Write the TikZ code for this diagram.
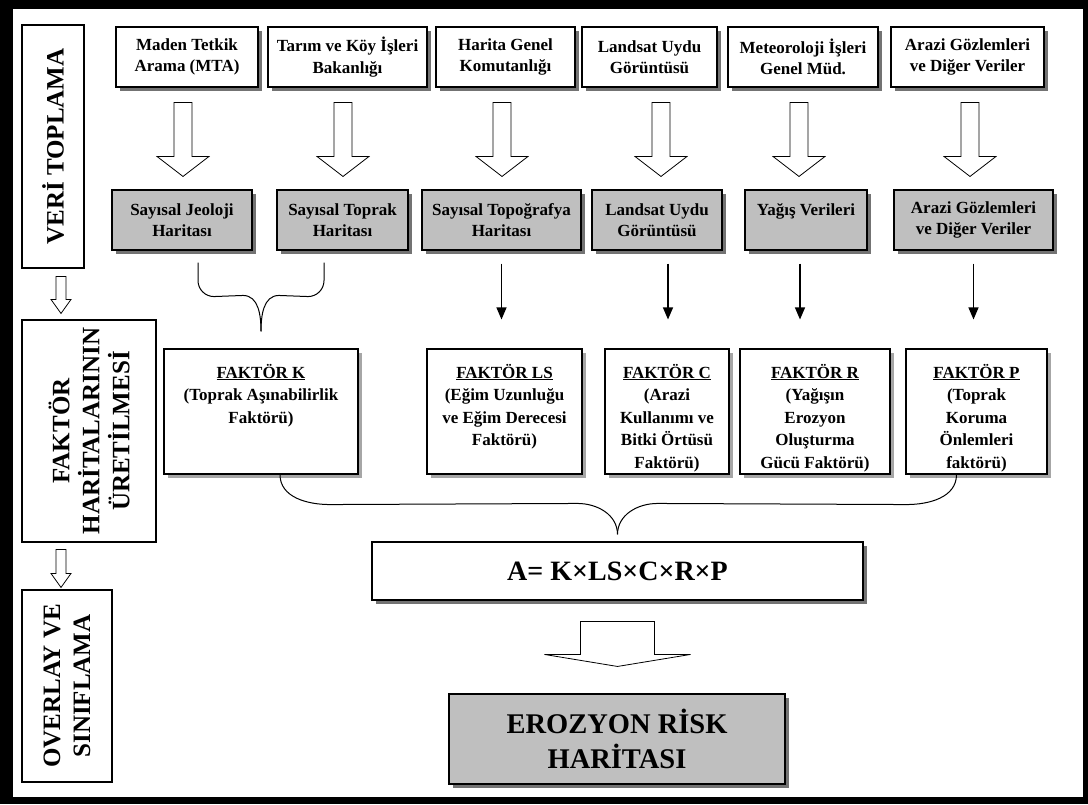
\documentclass[tikz,border=0pt]{standalone}
\usepackage{fontspec}
\setmainfont{Liberation Serif}
\usetikzlibrary{calc, shadows, arrows.meta, positioning}

% hollow block arrow: start, tip, half shaft, half head, head length
\newcommand{\hollowarrow}[5]{%
  \draw[fatarrow] let \p1=#1, \p2=#2 in
    (\x1-#3,\y1) -- (\x1+#3,\y1) -- (\x1+#3,\y2+#5) -- (\x1+#4,\y2+#5)
    -- (\x1,\y2) -- (\x1-#4,\y2+#5) -- (\x1-#3,\y2+#5) -- cycle;}
% top aligned text of a factor box
\newcommand{\ftext}[2]{\parbox[c][125pt][t]{#1}{\centering\rule{0pt}{29pt}#2}}

\tikzset{
  box/.style = {draw, line width=1.1pt, align=center, inner sep=0pt,
    font=\bfseries\fontsize{17}{21.5}\selectfont},
  shade/.style = {drop shadow={shadow xshift=4pt, shadow yshift=-4pt, fill=black!55, opacity=1}},
  srcbox/.style = {box, shade, fill=white, minimum height=60pt},
  mapbox/.style = {box, shade, fill=gray!50, minimum height=60pt},
  factorbox/.style = {box, fill=white, minimum height=125pt,
    drop shadow={shadow xshift=4pt, shadow yshift=-4pt, fill=black!35, opacity=1},
    font=\bfseries\fontsize{17}{22.5}\selectfont},
  sidebox/.style = {draw, line width=1.1pt, fill=white, rotate=90, align=center,
    inner sep=0pt, font=\bfseries\fontsize{25}{30}\selectfont},
  eqbox/.style = {box, shade, fill=white, font=\bfseries\fontsize{28}{32}\selectfont},
  riskbox/.style = {box, shade, fill=gray!50, font=\bfseries\fontsize{28.5}{35}\selectfont},
  fatarrow/.style = {fill=white, line width=0.8pt},
  darrow/.style = {line width=1.2pt, -{Triangle[length=12pt, width=10pt]}},
  brace/.style = {line width=1pt},
}

\begin{document}
\begin{tikzpicture}[x=1pt, y=-1pt]
  \useasboundingbox (0,0) rectangle (1088,804);
  \fill[black] (0,0) rectangle (1088,804);
  \fill[white] (13,9) rectangle (1083,797);

  % stages
  \node[sidebox, minimum width=243pt, minimum height=62pt] (veri) at (53,146.5) {VERİ TOPLAMA};
  \node[sidebox, minimum width=222pt, minimum height=134pt] (faktor) at (89,431) {FAKTÖR\\HARİTALARININ\\ÜRETİLMESİ};
  \node[sidebox, minimum width=192pt, minimum height=90pt] (overlay) at (67,686) {OVERLAY VE\\SINIFLAMA};
  \hollowarrow{($(veri.west)+(8,8)$)}{($(faktor.east)+(-28,-6)$)}{5pt}{10pt}{14pt}
  \hollowarrow{($(faktor.west)+(-28,7)$)}{($(overlay.east)+(-6,-2)$)}{5pt}{10pt}{14pt}

  % sources
  \node[srcbox, minimum width=142pt] (s1) at (187,57) {Maden Tetkik\\Arama (MTA)};
  \node[srcbox, minimum width=159pt] (s2) at (347.5,57) {Tarım ve Köy İşleri\\Bakanlığı};
  \node[srcbox, minimum width=139pt] (s3) at (505.5,57) {Harita Genel\\Komutanlığı};
  \node[srcbox, minimum width=135pt] (s4) at (649.5,57) {Landsat Uydu\\Görüntüsü};
  \node[srcbox, minimum width=150pt] (s5) at (803,57) {Meteoroloji İşleri\\Genel Müd.};
  \node[srcbox, minimum width=153pt] (s6) at (967.5,57) {Arazi Gözlemleri\\ve Diğer Veriler};

  % data
  \node[mapbox, minimum width=140pt] (g1) at (182,220) {Sayısal Jeoloji\\Haritası};
  \node[mapbox, minimum width=131pt] (g2) at (342.5,220) {Sayısal Toprak\\Haritası};
  \node[mapbox, minimum width=159pt] (g3) at (501.5,220) {Sayısal Topoğrafya\\Haritası};
  \node[mapbox, minimum width=130pt] (g4) at (657,220) {Landsat Uydu\\Görüntüsü};
  \node[mapbox, minimum width=122pt] (g5) at (806,220) {Yağış Verileri\\\phantom{H}};
  \node[mapbox, minimum width=159pt] (g6) at (973.5,220) {Arazi Gözlemleri\\ve Diğer Veriler};

  \foreach \a/\b/\d in {s1/g1/1, s2/g2/0.5, s3/g3/0.5, s4/g4/4, s5/g5/-7, s6/g6/-3.5}
    {\hollowarrow{($(\b.north |- \a.south)+(\d,15)$)}{($(\b.north)+(\d,-13)$)}{9pt}{26pt}{20pt}}

  % factors
  \node[factorbox, minimum width=194pt] (k) at (261,411.5)
    {\ftext{184pt}{\underline{FAKTÖR K}\\(Toprak Aşınabilirlik\\Faktörü)}};
  \node[factorbox, minimum width=155pt] (ls) at (504.5,411.5)
    {\ftext{150pt}{\underline{FAKTÖR LS}\\(Eğim Uzunluğu\\ve Eğim Derecesi\\Faktörü)}};
  \node[factorbox, minimum width=124pt] (c) at (667,411.5)
    {\ftext{118pt}{\underline{FAKTÖR C}\\(Arazi\\Kullanımı ve\\Bitki Örtüsü\\Faktörü)}};
  \node[factorbox, minimum width=150pt] (r) at (815,411.5)
    {\ftext{144pt}{\underline{FAKTÖR R}\\(Yağışın\\Erozyon\\Oluşturma\\Gücü Faktörü)}};
  \node[factorbox, minimum width=141pt] (p) at (976.5,411.5)
    {\ftext{135pt}{\underline{FAKTÖR P}\\(Toprak\\Koruma\\Önlemleri\\faktörü)}};

  \foreach \a/\b/\d in {g3/ls/0, g4/c/11, g5/r/-6, g6/p/0}
    \draw[darrow] ($(\a.south)+(\d,13)$) -- ($(\a.south |- \b.north)+(\d,-29)$);

  % brace K
  \coordinate (bl) at ($(g1.south)+(16,12)$);
  \coordinate (br) at ($(g2.south)+(-18.5,12)$);
  \coordinate (bt) at ($(k.north)+(0,-17)$);
  \draw[brace] (bl) -- ++(0,18) to[out=-90,in=180] ++(16,16) -- ($(bt)+(-18,-36)$) to[out=0,in=90] (bt);
  \draw[brace] (br) -- ++(0,18) to[out=-90,in=0] ++(-16,16) -- ($(bt)+(18,-36)$) to[out=180,in=90] (bt);

  % result
  \node[eqbox, minimum width=491pt, minimum height=58pt] (eq) at (617.5,571) {A= K×LS×C×R×P};
  \node[riskbox, minimum width=336pt, minimum height=90pt] (risk) at (617,739) {EROZYON RİSK\\HARİTASI};

  \coordinate (Bl) at ($(k.south)+(19,0)$);
  \coordinate (Br) at ($(p.south)+(-20,0)$);
  \coordinate (Bt) at ($(eq.north)+(0,-7)$);
  \draw[brace] (Bl) to[out=-90,in=180] ($(Bl)+(50,30)$) -- ($(Bt)+(-40,-31)$) to[out=0,in=90] (Bt);
  \draw[brace] (Br) to[out=-90,in=0] ($(Br)+(-50,30)$) -- ($(Bt)+(40,-31)$) to[out=180,in=90] (Bt);

  \hollowarrow{($(eq.south)+(0,21)$)}{($(risk.north)+(0,-27)$)}{37pt}{73pt}{12pt}
\end{tikzpicture}
\end{document}
